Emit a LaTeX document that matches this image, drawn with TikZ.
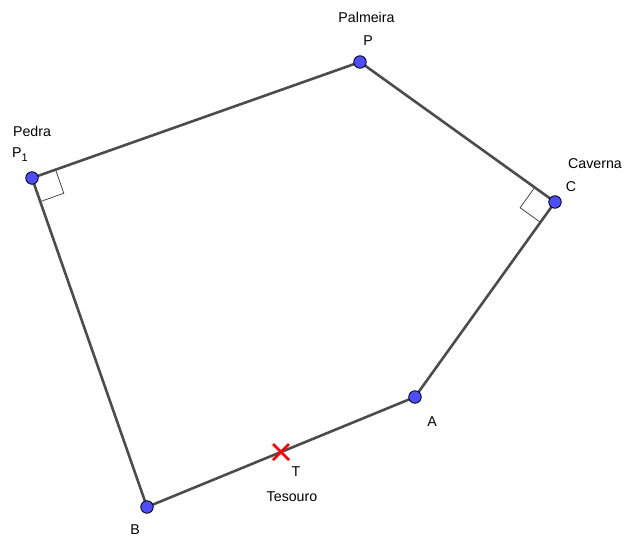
\documentclass[tikz,border=0pt]{standalone}
\usepackage{fontspec}
\setmainfont{Liberation Sans}
\usetikzlibrary{calc}
\begin{document}
\begin{tikzpicture}[x=1pt,y=-1pt,
  seg/.style={draw=black!70,line width=2.6pt},
  pt/.style={circle,draw=black,line width=0.8pt,fill={rgb,255:red,77;green,77;blue,255},minimum size=12.5pt,inner sep=0pt},
  lbl/.style={font=\fontsize{14.2}{16}\selectfont,inner sep=0pt},
  rmark/.style={draw=black!80,line width=0.7pt}]
\useasboundingbox (0,0) rectangle (624,538);
\coordinate (P) at (360,62);
\coordinate (P1) at (32,178);
\coordinate (C) at (555,202);
\coordinate (A) at (415,397);
\coordinate (B) at (147,507);
\coordinate (T) at (281,452);
% right angle marks
\coordinate (m1a) at ($(P1)!25pt!(P)$);
\coordinate (m1b) at ($(P1)!25pt!(B)$);
\coordinate (m1c) at ($(m1a)+(m1b)-(P1)$);
\coordinate (m2a) at ($(C)!25pt!(P)$);
\coordinate (m2b) at ($(C)!25pt!(A)$);
\coordinate (m2c) at ($(m2a)+(m2b)-(C)$);
\draw[rmark] (m1a) -- (m1c) -- (m1b);
\draw[rmark] (m2a) -- (m2c) -- (m2b);
% segments
\draw[seg] (P1) -- (P);
\draw[seg] (P) -- (C);
\draw[seg] (C) -- (A);
\draw[seg] (A) -- (B);
\draw[seg] (B) -- (P1);
% points
\node[pt] (nP) at (P) {};
\node[pt] (nP1) at (P1) {};
\node[pt] (nC) at (C) {};
\node[pt] (nA) at (A) {};
\node[pt] (nB) at (B) {};
\draw[red,line width=2.6pt] ($(T)+(-8,-8)$) -- ($(T)+(8,8)$) ($(T)+(-8,8)$) -- ($(T)+(8,-8)$);
% labels
\node[lbl] (lpalm) at (366.5,17) {Palmeira};
\node[lbl] (lP) at (368,41) {P};
\node[lbl] (lped) at (32,131) {Pedra};
\node[lbl,anchor=west] (lP1) at (12,155) {P\raisebox{-4pt}{\fontsize{11}{11}\selectfont 1}};
\node[lbl] (lcav) at (595,164) {Caverna};
\node[lbl] (lC) at (571,187) {C};
\node[lbl] (lA) at (432,422) {A};
\node[lbl] (lT) at (296,472) {T};
\node[lbl] (ltes) at (292,497) {Tesouro};
\node[lbl] (lB) at (135,530) {B};
\end{tikzpicture}
\end{document}
